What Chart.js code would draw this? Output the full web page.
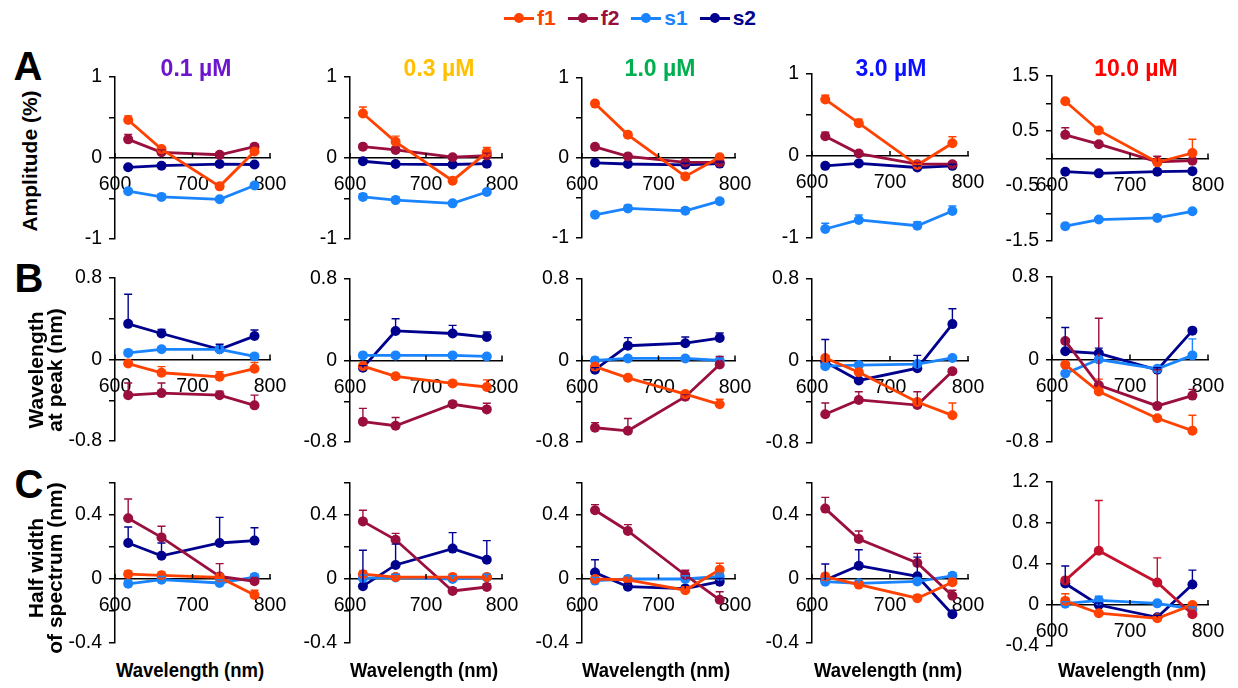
<!DOCTYPE html>
<html><head><meta charset="utf-8">
<script src="https://cdn.jsdelivr.net/npm/chart.js@4.4.1/dist/chart.umd.min.js"></script>
<style>
body{margin:0;width:1238px;height:688px;background:#fff;position:relative;overflow:hidden;font-family:"Liberation Sans",Arial,sans-serif;}
canvas{position:absolute;}
.t{position:absolute;font-weight:bold;white-space:nowrap;line-height:1;text-align:center;}
</style></head><body>
<script>
// ---------------- DATA ----------------
const wavelengths = [617, 660, 735, 780];
const xTickLabels = ['600', '700', '800'];
const seriesNames = ['f1', 'f2', 's1', 's2'];
const concentrations = ['0.1 µM', '0.3 µM', '1.0 µM', '3.0 µM', '10.0 µM'];

// Row A: Amplitude (%) — one inner list per concentration
const ampF1 = [[0.47,0.11,-0.35,0.08],[0.55,0.20,-0.28,0.07],[0.68,0.29,-0.23,0.01],[0.69,0.40,-0.11,0.155],[1.04,0.51,-0.07,0.10]];
const ampF2 = [[0.23,0.07,0.04,0.14],[0.14,0.10,0.01,0.03],[0.14,0.02,-0.055,-0.055],[0.24,0.03,-0.10,-0.10],[0.43,0.26,-0.06,-0.04]];
const ampS1 = [[-0.41,-0.48,-0.51,-0.34],[-0.48,-0.52,-0.56,-0.42],[-0.71,-0.63,-0.66,-0.54],[-0.89,-0.78,-0.85,-0.67],[-1.23,-1.11,-1.08,-0.96]];
const ampS2 = [[-0.115,-0.095,-0.075,-0.08],[-0.04,-0.075,-0.08,-0.07],[-0.06,-0.075,-0.085,-0.07],[-0.12,-0.09,-0.14,-0.12],[-0.24,-0.27,-0.24,-0.23]];
const ampF1Err = [[0.05,0.03,0.03,0.03],[0.08,0.07,0.03,0.06],[0.03,0.03,0.03,0.03],[0.05,0.05,0.03,0.08],[0.03,0.04,0.04,0.25]];
const ampF2Err = [[0.06,0.03,0.02,0.03],[0.03,0.03,0.02,0.03],[0.02,0.02,0.02,0.02],[0.05,0.03,0.02,0.03],[0.13,0.03,0.10,0.03]];
const ampS1Err = [[0.03,0.03,0.02,0.03],[0.04,0.04,0.02,0.03],[0.03,0.04,0.04,0.03],[0.07,0.06,0.05,0.06],[0.02,0.02,0.02,0.02]];
const ampS2Err = [[0.02,0.02,0.02,0.02],[0.02,0.02,0.02,0.02],[0.02,0.02,0.02,0.02],[0.02,0.02,0.02,0.02],[0.02,0.02,0.02,0.02]];

// Row B: Wavelength at peak (nm)
const peakF1 = [[-0.04,-0.13,-0.17,-0.09],[-0.055,-0.155,-0.225,-0.26],[-0.06,-0.17,-0.33,-0.43],[0.03,-0.11,-0.40,-0.53],[-0.05,-0.31,-0.57,-0.69]];
const peakF2 = [[-0.35,-0.33,-0.35,-0.45],[-0.60,-0.64,-0.43,-0.48],[-0.66,-0.69,-0.355,-0.04],[-0.52,-0.38,-0.43,-0.10],[0.18,-0.25,-0.45,-0.35]];
const peakS1 = [[0.065,0.10,0.10,0.03],[0.05,0.05,0.05,0.04],[0.0,0.02,0.02,0.0],[-0.05,-0.04,-0.03,0.03],[-0.135,0.0,-0.09,0.04]];
const peakS2 = [[0.35,0.255,0.10,0.23],[-0.07,0.29,0.265,0.23],[-0.09,0.145,0.17,0.22],[-0.01,-0.19,-0.07,0.36],[0.08,0.06,-0.10,0.28]];
const peakF1Err = [[0.03,0.06,0.05,0.06],[0.02,0.02,0.03,0.07],[0.02,0.02,0.02,0.05],[0.02,0.02,0.02,0.12],[0.02,0.12,0.02,0.15]];
const peakF2Err = [[0.12,0.10,0.04,0.10],[0.13,0.08,0.03,0.06],[0.05,0.12,0.02,0.08],[0.11,0.08,0.13,0.02],[0.02,0.65,0.35,0.06]];
const peakS1Err = [[0.02,0.02,0.02,0.03],[0.02,0.02,0.02,0.02],[0.03,0.02,0.02,0.02],[0.02,0.02,0.02,0.02],[0.02,0.02,0.02,0.16]];
const peakS2Err = [[0.29,0.04,0.05,0.06],[0.02,0.12,0.08,0.05],[0.02,0.08,0.06,0.05],[0.22,0.02,0.125,0.15],[0.23,0.05,0.02,0.02]];

// Row C: Half width of spectrum (nm)
const hwF1 = [[0.03,0.023,0.01,-0.10],[0.03,0.012,0.012,0.012],[0.0,-0.005,-0.07,0.058],[0.015,-0.035,-0.12,-0.02],[0.04,-0.08,-0.13,0.0]];
const hwF2 = [[0.38,0.26,0.016,-0.014],[0.36,0.245,-0.075,-0.05],[0.43,0.30,0.025,-0.13],[0.44,0.25,0.10,-0.105],[0.24,0.53,0.22,-0.09]];
const hwS1 = [[-0.03,-0.004,-0.025,0.012],[0.005,0.01,0.0,0.01],[-0.01,0.0,0.0,0.017],[-0.017,-0.027,-0.015,0.02],[0.013,0.045,0.016,-0.04]];
const hwS2 = [[0.225,0.145,0.225,0.24],[-0.045,0.088,0.19,0.12],[0.04,-0.048,-0.06,-0.017],[-0.006,0.083,0.017,-0.22],[0.21,0.0,-0.12,0.20]];
const hwF1Err = [[0.02,0.02,0.02,0.03],[0.02,0.02,0.02,0.02],[0.02,0.02,0.02,0.04],[0.02,0.02,0.02,0.02],[0.07,0.02,0.02,0.02]];
const hwF2Err = [[0.12,0.07,0.08,0.02],[0.07,0.04,0.02,0.02],[0.035,0.04,0.03,0.05],[0.07,0.05,0.06,0.035],[0.02,0.49,0.24,0.02]];
const hwS1Err = [[0.02,0.02,0.02,0.02],[0.02,0.02,0.02,0.02],[0.02,0.02,0.02,0.02],[0.02,0.02,0.02,0.02],[0.02,0.04,0.02,0.02]];
const hwS2Err = [[0.10,0.08,0.16,0.08],[0.225,0.13,0.10,0.12],[0.08,0.02,0.02,0.02],[0.10,0.10,0.12,0.02],[0.17,0.02,0.02,0.14]];

// Y tick labels (only these ticks carry text)
const ampTickLabels = ['1', '0', '-1'];
const ampTickLabels10 = ['1.5', '0.5', '-0.5', '-1.5'];
const peakTickLabels = ['0.8', '0', '-0.8'];
const hwTickLabels = ['0.4', '0', '-0.4'];
const hwTickLabels10 = ['1.2', '0.8', '0.4', '0', '-0.4'];

// ---------------- STYLE / LAYOUT ----------------
const FONT = '"Liberation Sans", Arial, sans-serif';
const seriesColors = ['#FF4200', '#9A0F3E', '#1A84FF', '#00008E'];
const titleColors = ['#6E16CC', '#FFC000', '#00B050', '#0A10FF', '#FF0000'];
const colX0 = [115, 350, 582, 812, 1052];
const colX1 = [270, 502, 735, 968, 1208];
const rowTop = [[77,77,78,74,76],[278,279,279,279,277],[483,483,483,483,482]];
const rowBot = [[239,239,238,238,241],[441,442,442,443,442],[643,643,643,643,646]];

const rows = [
  {vals:[ampF1,ampF2,ampS1,ampS2], errs:[ampF1Err,ampF2Err,ampS1Err,ampS2Err],
   y:c => c===4 ? {min:-1.5,max:1.5,step:0.5,labels:ampTickLabels10} : {min:-1,max:1,step:0.5,labels:ampTickLabels}},
  {vals:[peakF1,peakF2,peakS1,peakS2], errs:[peakF1Err,peakF2Err,peakS1Err,peakS2Err],
   y:c => ({min:-0.8,max:0.8,step:0.4,labels:peakTickLabels})},
  {vals:[hwF1,hwF2,hwS1,hwS2], errs:[hwF1Err,hwF2Err,hwS1Err,hwS2Err],
   y:c => c===4 ? {min:-0.4,max:1.2,step:0.4,labels:hwTickLabels10} : {min:-0.4,max:0.6,step:0.2,labels:hwTickLabels}}
];

const errorBars = {
  id:'errorBars',
  afterDatasetsDraw(chart){
    const ctx = chart.ctx, xs = chart.scales.x, ys = chart.scales.y;
    chart.data.datasets.forEach(ds => {
      ctx.save();
      ctx.strokeStyle = ds.borderColor; ctx.lineWidth = 1.4;
      ds.data.forEach((p, i) => {
        const e = ds.errPlus[i]; if (!e) return;
        const px = xs.getPixelForValue(p.x), y0 = ys.getPixelForValue(p.y), y1 = ys.getPixelForValue(p.y + e);
        ctx.beginPath();
        ctx.moveTo(px, y0); ctx.lineTo(px, y1);
        ctx.moveTo(px - 4, y1); ctx.lineTo(px + 4, y1);
        ctx.stroke();
      });
      ctx.restore();
    });
  }
};
const xTickMarks = {
  id:'xTickMarks',
  afterDraw(chart){
    const ctx = chart.ctx, xs = chart.scales.x, ys = chart.scales.y;
    const y0 = ys.getPixelForValue(0);
    ctx.save(); ctx.strokeStyle = '#000'; ctx.lineWidth = 1.5;
    xTickLabels.forEach(l => {
      const px = xs.getPixelForValue(parseFloat(l));
      ctx.beginPath(); ctx.moveTo(px, y0); ctx.lineTo(px, y0 - 5); ctx.stroke();
    });
    ctx.restore();
  }
};

function makePanel(r, c){
  const x0 = colX0[c], x1 = colX1[c], t = rowTop[r][c], b = rowBot[r][c];
  const LW = 65, PR = 30, PT = 12, PB = 12;
  const w = LW + (x1 - x0) + PR, h = (b - t) + PT + PB;
  const cv = document.createElement('canvas');
  cv.width = w; cv.height = h;
  cv.style.left = (x0 - LW) + 'px'; cv.style.top = (t - PT) + 'px';
  cv.style.width = w + 'px'; cv.style.height = h + 'px';
  document.body.appendChild(cv);
  const row = rows[r], yc = row.y(c);
  const datasets = seriesNames.map((name, s) => {
    let col = seriesColors[s];
    if (r === 2 && c === 4 && s === 1) col = '#C4122E';
    return {
      label: name,
      data: wavelengths.map((x, i) => ({x, y: row.vals[s][c][i]})),
      errPlus: row.errs[s][c],
      borderColor: col, backgroundColor: col,
      pointBackgroundColor: col, pointBorderColor: col,
      pointRadius: 5, pointBorderWidth: 0, borderWidth: 2.8, tension: 0, fill: false
    };
  });
  new Chart(cv, {
    type: 'line',
    data: {datasets},
    options: {
      responsive: false, animation: false, devicePixelRatio: 1,
      layout: {padding: {top: PT, right: PR, bottom: PB, left: 0}},
      plugins: {legend: {display: false}, tooltip: {enabled: false}},
      scales: {
        x: {
          type: 'linear', position: {y: 0}, min: 600, max: 800,
          afterFit(s){ s.paddingLeft = 0; s.paddingRight = 0; },
          afterBuildTicks(s){ s.ticks = xTickLabels.map(l => ({value: parseFloat(l)})); },
          ticks: {font: {size: 19.5, family: FONT}, color: '#000', padding: 15, maxRotation: 0, autoSkip: false,
                  callback: v => xTickLabels.find(l => parseFloat(l) === v) || ''},
          grid: {display: true, drawOnChartArea: false, drawTicks: false},
          border: {color: '#000', width: 1.5}
        },
        y: {
          min: yc.min, max: yc.max,
          afterFit(s){ s.width = LW; s.paddingTop = 0; s.paddingBottom = 0; },
          ticks: {stepSize: yc.step, font: {size: 19.5, family: FONT}, color: '#000', padding: 7,
                  callback: v => yc.labels.find(l => Math.abs(parseFloat(l) - v) < 1e-6) || ''},
          grid: {drawOnChartArea: false, tickLength: 6, color: '#000', lineWidth: 1.5},
          border: {color: '#000', width: 1.5}
        }
      }
    },
    plugins: [errorBars, xTickMarks]
  });
}

for (let r = 0; r < 3; r++) for (let c = 0; c < 5; c++) makePanel(r, c);

// ---------------- TEXT ----------------
function addText(html, cx, cy, size, color, rot, lh, sx){
  const d = document.createElement('div');
  d.className = 't';
  d.innerHTML = html;
  d.style.left = cx + 'px'; d.style.top = cy + 'px';
  d.style.fontSize = size + 'px'; d.style.color = color || '#000';
  if (lh) d.style.lineHeight = lh + 'px';
  d.style.transform = 'translate(-50%,-50%)' + (rot ? ' rotate(-90deg)' : '') + (sx ? ' scaleX(' + sx + ')' : '');
  document.body.appendChild(d);
  return d;
}
const titleCX = [196, 439, 660, 891, 1136];
concentrations.forEach((t, c) => addText(t, titleCX[c], 68, 23, titleColors[c]));
addText('A', 28, 66, 40); addText('B', 29, 278, 40); addText('C', 29, 484, 40);
addText('Amplitude (%)', 29, 161, 21, '#000', true);
addText('Wavelength<br>at peak (nm)', 45, 370, 21, '#000', true, 19);
addText('Half width<br>of spectrum (nm)', 45, 568, 21, '#000', true, 19);
const xTitleCX = [190, 424, 656, 888, 1132];
xTitleCX.forEach(cx => addText('Wavelength (nm)', cx, 669, 21, '#000', false, 0, 0.88));

// legend
const lg = document.createElement('div');
lg.style.cssText = 'position:absolute;left:630px;top:18px;transform:translate(-50%,-50%);display:flex;align-items:center;';
seriesNames.forEach((n, s) => {
  const it = document.createElement('div');
  it.style.cssText = 'display:flex;align-items:center;margin:0 6px;';
  const sym = document.createElement('div');
  sym.style.cssText = 'position:relative;width:30px;height:12px;margin-right:3px;';
  sym.innerHTML = '<div style="position:absolute;left:0;top:4.5px;width:30px;height:3px;background:' + seriesColors[s] + '"></div>' +
                  '<div style="position:absolute;left:10px;top:1px;width:10px;height:10px;border-radius:50%;background:' + seriesColors[s] + '"></div>';
  const tx = document.createElement('span');
  tx.textContent = n;
  tx.style.cssText = 'font-weight:bold;font-size:21px;color:' + seriesColors[s] + ';';
  it.appendChild(sym); it.appendChild(tx); lg.appendChild(it);
});
document.body.appendChild(lg);
</script>
</body></html>
